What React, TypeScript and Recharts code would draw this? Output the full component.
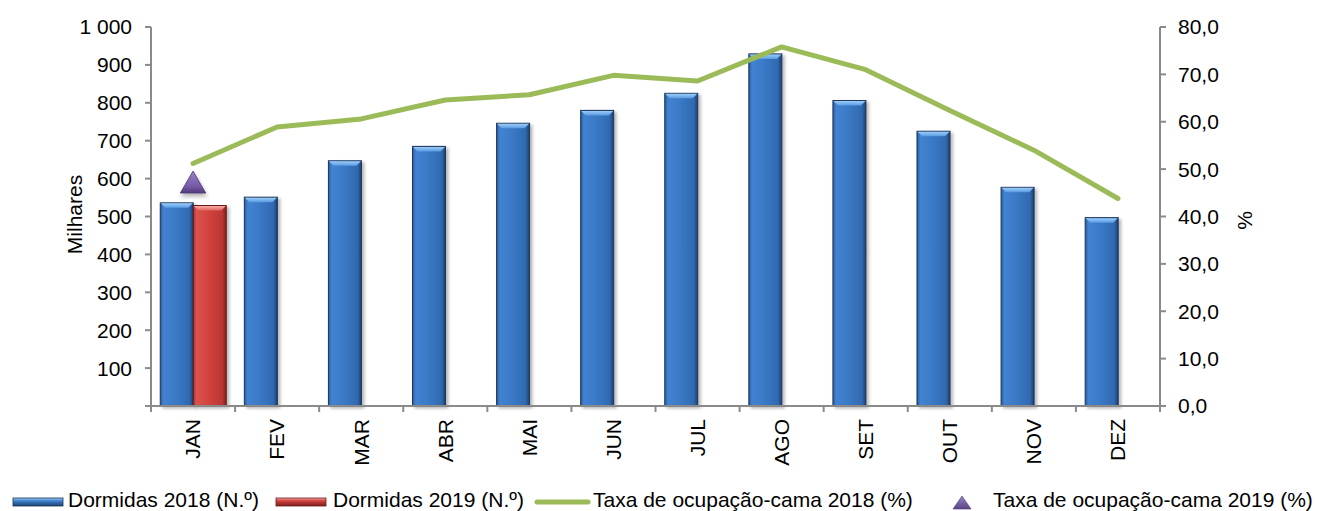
import React from 'react';
import { ComposedChart, Bar, Line, XAxis, YAxis, Symbols } from 'recharts';

const months = ['JAN', 'FEV', 'MAR', 'ABR', 'MAI', 'JUN', 'JUL', 'AGO', 'SET', 'OUT', 'NOV', 'DEZ'];
const dormidas2018 = [536, 551, 647, 685, 746, 780, 825, 929, 806, 725, 577, 497];
const dormidas2019: (number | null)[] = [529, null, null, null, null, null, null, null, null, null, null, null];
const taxa2018 = [51.2, 58.9, 60.6, 64.6, 65.7, 69.8, 68.6, 75.8, 71.0, 62.4, 54.0, 43.8];
const taxa2019: (number | null)[] = [46.5, null, null, null, null, null, null, null, null, null, null, null];
const leftTicks = [0, 100, 200, 300, 400, 500, 600, 700, 800, 900, 1000];
const rightTicks = [0, 10, 20, 30, 40, 50, 60, 70, 80];
const legendLabels = [
  'Dormidas 2018 (N.º)',
  'Dormidas 2019 (N.º)',
  'Taxa de ocupação-cama 2018 (%)',
  'Taxa de ocupação-cama 2019 (%)',
];

const data = months.map((m, i) => ({
  month: m,
  d2018: dormidas2018[i],
  d2019: dormidas2019[i],
  t2018: taxa2018[i],
  t2019: taxa2019[i],
}));

const FONT = '"Liberation Sans", Arial, sans-serif';
const AXIS = '#8a8a8a';
const GREEN = '#9bbb59';
const TICK_SIZE = 6;
const TICK_MARGIN = 7;

const fmtLeft = (v: number) => {
  if (v === 0) return '';
  if (v >= 1000) return `${Math.floor(v / 1000)} ${String(v % 1000).padStart(3, '0')}`;
  return String(v);
};
const fmtRight = (v: number) => v.toFixed(1).replace('.', ',');

const BevelBar = (props: any) => {
  const { x, y, width, height, pal } = props;
  if (height == null || !(height > 0) || x == null) return <g />;
  const b = Math.min(5, width / 4, height);
  return (
    <g filter="url(#barShadow)">
      <rect x={x} y={y} width={width} height={height} fill={`url(#${pal}Body)`} stroke={pal === 'blue' ? '#1b3558' : '#6b1a18'} strokeWidth={1} />
      <polygon
        points={`${x + 0.5},${y + 0.5} ${x + width - 0.5},${y + 0.5} ${x + width - b},${y + b} ${x + b},${y + b}`}
        fill={`url(#${pal}Top)`}
      />
    </g>
  );
};

const MonthTick = (props: any) => {
  const { x, y, payload, index } = props;
  const half = payload && typeof payload.offset === 'number' ? payload.offset : 0;
  const axisY = y - TICK_SIZE - TICK_MARGIN;
  return (
    <g>
      {half > 0 && (
        <line x1={x - half} x2={x - half} y1={axisY} y2={axisY + TICK_SIZE} stroke={AXIS} strokeWidth={2} />
      )}
      {half > 0 && index === months.length - 1 && (
        <line x1={x + half} x2={x + half} y1={axisY} y2={axisY + TICK_SIZE} stroke={AXIS} strokeWidth={2} />
      )}
      <text
        transform={`translate(${x},${y}) rotate(-90)`}
        textAnchor="end"
        dy="0.35em"
        fontSize={21}
        fontFamily={FONT}
        fill="#000"
      >
        {payload.value}
      </text>
    </g>
  );
};

const AxisTitle = (props: any) => {
  const { viewBox, text, dx = 0, dyy = 0 } = props;
  if (!viewBox) return null;
  const cx = viewBox.x + viewBox.width / 2 + dx;
  const cy = viewBox.y + viewBox.height / 2 + dyy;
  return (
    <text transform={`translate(${cx},${cy}) rotate(-90)`} textAnchor="middle" dy="0.35em" fontSize={21} fontFamily={FONT} fill="#000">
      {text}
    </text>
  );
};

const renderTriangle = (props: any) => {
  const { cx, cy, value, index } = props;
  if (value == null || cx == null || cy == null) return <g key={`t${index}`} />;
  return (
    <g key={`t${index}`} filter="url(#triShadow)">
      <Symbols cx={cx} cy={cy} type="triangle" size={280} fill="url(#triGrad)" stroke="#4e3a72" strokeWidth={0.8} />
    </g>
  );
};

export default function App() {
  return (
    <div style={{ position: 'absolute', left: 0, top: 0, width: 1319, height: 511, background: '#fff', overflow: 'hidden' }}>
      <ComposedChart
        width={1319}
        height={470}
        data={data}
        margin={{ top: 27, right: 0, bottom: 0, left: 0 }}
        barCategoryGap="11%"
        barGap={0}
      >
        <defs>
          <linearGradient id="blueBody" x1="0" y1="0" x2="1" y2="0">
            <stop offset="0%" stopColor="#2a5c9e" />
            <stop offset="10%" stopColor="#4283d2" />
            <stop offset="50%" stopColor="#3a78c4" />
            <stop offset="88%" stopColor="#3069b1" />
            <stop offset="100%" stopColor="#1d3f6e" />
          </linearGradient>
          <linearGradient id="blueTop" x1="0" y1="0" x2="0" y2="1">
            <stop offset="0%" stopColor="#9ccdf8" />
            <stop offset="100%" stopColor="#5a9ae2" />
          </linearGradient>
          <linearGradient id="redBody" x1="0" y1="0" x2="1" y2="0">
            <stop offset="0%" stopColor="#a8302d" />
            <stop offset="10%" stopColor="#dc524e" />
            <stop offset="50%" stopColor="#d0413d" />
            <stop offset="88%" stopColor="#bb3633" />
            <stop offset="100%" stopColor="#7c1f1d" />
          </linearGradient>
          <linearGradient id="redTop" x1="0" y1="0" x2="0" y2="1">
            <stop offset="0%" stopColor="#f8aaa7" />
            <stop offset="100%" stopColor="#e2625f" />
          </linearGradient>
          <linearGradient id="triGrad" x1="0" y1="0" x2="0" y2="1">
            <stop offset="0%" stopColor="#9a80c8" />
            <stop offset="70%" stopColor="#755aa5" />
            <stop offset="100%" stopColor="#4f3a7a" />
          </linearGradient>
          <filter id="barShadow" x="-20%" y="-5%" width="150%" height="115%">
            <feDropShadow dx="2.5" dy="2" stdDeviation="1.8" floodColor="#000" floodOpacity="0.28" />
          </filter>
          <filter id="triShadow" x="-30%" y="-30%" width="160%" height="180%">
            <feDropShadow dx="1" dy="3" stdDeviation="2" floodColor="#000" floodOpacity="0.3" />
          </filter>
        </defs>
        <XAxis
          dataKey="month"
          height={64}
          interval={0}
          axisLine={{ stroke: AXIS, strokeWidth: 2 }}
          tickLine={false}
          tickSize={TICK_SIZE}
          tickMargin={TICK_MARGIN}
          tick={<MonthTick />}
        />
        <YAxis
          yAxisId="left"
          orientation="left"
          width={151}
          domain={[0, 1000]}
          ticks={leftTicks}
          interval={0}
          tickFormatter={fmtLeft}
          tickSize={6}
          tickMargin={13}
          axisLine={{ stroke: AXIS, strokeWidth: 2 }}
          tickLine={{ stroke: AXIS, strokeWidth: 2 }}
          tick={{ fill: '#000', fontSize: 21, fontFamily: FONT }}
          label={<AxisTitle text="Milhares" dx={-1} dyy={-2} />}
        />
        <YAxis
          yAxisId="right"
          orientation="right"
          width={159}
          domain={[0, 80]}
          ticks={rightTicks}
          interval={0}
          tickFormatter={fmtRight}
          tickSize={6}
          tickMargin={12}
          axisLine={{ stroke: AXIS, strokeWidth: 2 }}
          tickLine={{ stroke: AXIS, strokeWidth: 2 }}
          tick={{ fill: '#000', fontSize: 21, fontFamily: FONT }}
          label={<AxisTitle text="%" dx={5.5} dyy={4} />}
        />
        <Bar yAxisId="left" dataKey="d2018" name={legendLabels[0]} fill="#3a78c4" shape={(p: any) => <BevelBar {...p} pal="blue" />} isAnimationActive={false} />
        <Bar yAxisId="left" dataKey="d2019" name={legendLabels[1]} fill="#d0413d" shape={(p: any) => <BevelBar {...p} pal="red" />} isAnimationActive={false} />
        <Line
          yAxisId="right"
          dataKey="t2018"
          name={legendLabels[2]}
          type="linear"
          stroke={GREEN}
          strokeWidth={5}
          strokeLinecap="round"
          strokeLinejoin="round"
          dot={false}
          activeDot={false}
          isAnimationActive={false}
        />
        <Line
          yAxisId="right"
          dataKey="t2019"
          name={legendLabels[3]}
          stroke="none"
          dot={renderTriangle}
          activeDot={false}
          isAnimationActive={false}
        />
      </ComposedChart>
      <svg width={1319} height={31} style={{ position: 'absolute', left: 0, top: 480 }}>
        <defs>
          <linearGradient id="legBlue" x1="0" y1="0" x2="0" y2="1">
            <stop offset="0%" stopColor="#9ccdf8" />
            <stop offset="35%" stopColor="#4283d2" />
            <stop offset="100%" stopColor="#1d3f6e" />
          </linearGradient>
          <linearGradient id="legRed" x1="0" y1="0" x2="0" y2="1">
            <stop offset="0%" stopColor="#f8aaa7" />
            <stop offset="35%" stopColor="#d0413d" />
            <stop offset="100%" stopColor="#7c1f1d" />
          </linearGradient>
          <linearGradient id="legTri" x1="0" y1="0" x2="0" y2="1">
            <stop offset="0%" stopColor="#9a80c8" />
            <stop offset="100%" stopColor="#5b4488" />
          </linearGradient>
        </defs>
        <rect x={13} y={18} width={50} height={8} fill="url(#legBlue)" stroke="#1b3558" strokeWidth={0.8} />
        <text x={68} y={27} fontSize={21} fontFamily={FONT} fill="#000">{legendLabels[0]}</text>
        <rect x={276} y={18} width={50} height={8} fill="url(#legRed)" stroke="#6b1a18" strokeWidth={0.8} />
        <text x={333} y={27} fontSize={21} fontFamily={FONT} fill="#000">{legendLabels[1]}</text>
        <line x1={537} x2={588} y1={22} y2={22} stroke={GREEN} strokeWidth={5} strokeLinecap="round" />
        <text x={593} y={27} fontSize={21} fontFamily={FONT} fill="#000">{legendLabels[2]}</text>
        <path d="M962,16 L971,29 L953,29 Z" fill="url(#legTri)" stroke="#4e3a72" strokeWidth={0.6} />
        <text x={993} y={27} fontSize={21} fontFamily={FONT} fill="#000">{legendLabels[3]}</text>
      </svg>
    </div>
  );
}
